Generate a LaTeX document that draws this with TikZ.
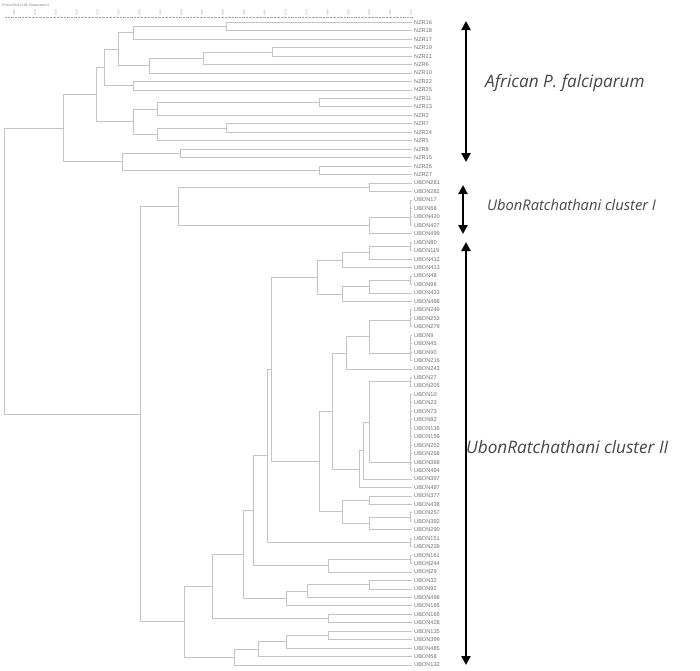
\documentclass[tikz,border=0pt]{standalone}
\usepackage{fontspec}
\setmainfont{Liberation Sans}
\newfontfamily\labfont{Open Sans}
\usetikzlibrary{calc,arrows.meta}
\definecolor{treegray}{RGB}{196,196,196}
\definecolor{leafgray}{RGB}{110,110,110}
\definecolor{biggray}{RGB}{70,70,70}
\newcommand\jn[4]{%
  \path let \p1=(#3), \p2=(#4) in (#2pt,{0.5*\y1+0.5*\y2}) coordinate (#1);
  \draw[br] (#1) |- (#3) (#1) |- (#4);}
\begin{document}
\begin{tikzpicture}[x=1pt,y=-1pt,
  br/.style={draw=treegray,line width=0.8pt},
  lbl/.style={anchor=west,inner sep=0pt,text=leafgray,font=\fontsize{5.6}{6}\selectfont},
  ticklbl/.style={inner sep=0pt,text=gray,rotate=90,font=\fontsize{2.6}{3}\selectfont},
  bigarrow/.style={line width=2.3pt,black,{Triangle[length=9pt,width=9pt]}-{Triangle[length=9pt,width=9pt]}},
  biglbl/.style={anchor=west,inner sep=0pt,text=biggray,font=\labfont\itshape\fontsize{17.2}{19}\selectfont}]
\useasboundingbox (0,0) rectangle (700,670);
% header and scale
\node[anchor=west,inner sep=0pt,text=gray,font=\fontsize{3.6}{4}\selectfont] (hdr) at (2,6) {PhenoTest (<All Characters>)};
\coordinate (axl) at (5,17.3);
\coordinate (axr) at (413,17.3);
\draw[gray!70,densely dotted,line width=0.4pt] (axl) -- (axr);
\foreach \v [count=\j from 0] in {0.05,0.10,0.15,0.20,0.25,0.30,0.35,0.40,0.45,0.50,0.55,0.60,0.65,0.70,0.75,0.80,0.85,0.90,0.95,1.00}{
  \node[ticklbl] (tk\j) at ({14+20.9*\j},12.8) {\v};
}
% leaves
\foreach \n [count=\i from 0] in {NZR16,NZR18,NZR17,NZR19,NZR21,NZR6,NZR10,NZR22,NZR25,NZR11,NZR13,NZR2,NZR7,NZR24,NZR5,NZR8,NZR15,NZR26,NZR27,UBON281,UBON282,UBON17,UBON68,UBON420,UBON427,UBON499,UBON80,UBON119,UBON412,UBON413,UBON48,UBON96,UBON433,UBON488,UBON249,UBON253,UBON279,UBON9,UBON45,UBON90,UBON216,UBON243,UBON27,UBON205,UBON10,UBON23,UBON73,UBON82,UBON136,UBON159,UBON252,UBON268,UBON388,UBON494,UBON397,UBON497,UBON377,UBON438,UBON257,UBON392,UBON290,UBON151,UBON239,UBON161,UBON244,UBON29,UBON32,UBON92,UBON498,UBON165,UBON165,UBON428,UBON135,UBON399,UBON485,UBON58,UBON132}{
  \coordinate (k\i) at (411.5,{22.3+8.457*\i});
  \node[lbl] (t\i) at (414,{22.3+8.457*\i}) {\n};
}
% African cluster
\jn{a1}{226}{k0}{k1}
\jn{a2}{133}{a1}{k2}
\jn{b1}{272}{k3}{k4}
\jn{b2}{203}{b1}{k5}
\jn{b3}{149}{b2}{k6}
\jn{ab}{118}{a2}{b3}
\jn{c1}{133}{k7}{k8}
\jn{cc}{104}{ab}{c1}
\jn{d1}{319}{k9}{k10}
\jn{d2}{157}{d1}{k11}
\jn{d3}{226}{k12}{k13}
\jn{d4}{157}{d3}{k14}
\jn{dd}{133}{d2}{d4}
\jn{ee}{96}{cc}{dd}
\jn{f1}{180}{k15}{k16}
\jn{f2}{319}{k17}{k18}
\jn{ff}{122}{f1}{f2}
\jn{nzr}{63}{ee}{ff}
% cluster I
\jn{g1}{369}{k19}{k20}
\jn{g2}{410}{k21}{k22}
\jn{g3}{410}{g2}{k23}
\jn{g4}{410}{g3}{k24}
\jn{g5}{369}{g4}{k25}
\jn{cla}{178}{g1}{g5}
% cluster II
\jn{h1}{410}{k26}{k27}
\jn{h2}{369}{h1}{k28}
\jn{h3}{342}{h2}{k29}
\jn{h4}{410}{k30}{k31}
\jn{h5}{369}{h4}{k32}
\jn{h6}{342}{h5}{k33}
\jn{h7}{317}{h3}{h6}
\jn{i1}{410}{k34}{k35}
\jn{i2}{410}{i1}{k36}
\jn{i3}{410}{k37}{k38}
\jn{i4}{410}{i3}{k39}
\jn{i5}{410}{i4}{k40}
\jn{i6}{369}{i2}{i5}
\jn{i7}{346}{i6}{k41}
\jn{j1}{410}{k42}{k43}
\jn{p45}{410}{k44}{k45}
\jn{p46}{410}{p45}{k46}
\jn{p47}{410}{p46}{k47}
\jn{p48}{410}{p47}{k48}
\jn{p49}{410}{p48}{k49}
\jn{p50}{410}{p49}{k50}
\jn{p51}{410}{p50}{k51}
\jn{p52}{410}{p51}{k52}
\jn{p53}{410}{p52}{k53}
\jn{j2}{369}{j1}{p53}
\jn{j3}{363}{j2}{k54}
\jn{j4}{359}{j3}{k55}
\jn{j5}{332}{i7}{j4}
\jn{m1}{369}{k56}{k57}
\jn{m2}{410}{k58}{k59}
\jn{m3}{369}{m2}{k60}
\jn{m4}{342}{m1}{m3}
\jn{m5}{319}{j5}{m4}
\jn{q1}{271}{h7}{m5}
\jn{q2}{410}{k61}{k62}
\jn{q3}{267}{q1}{q2}
\jn{r1}{410}{k63}{k64}
\jn{r2}{328}{r1}{k65}
\jn{q4}{253}{q3}{r2}
\jn{s1}{369}{k66}{k67}
\jn{s2}{307}{s1}{k68}
\jn{s3}{286}{s2}{k69}
\jn{q5}{243}{q4}{s3}
\jn{t1}{328}{k70}{k71}
\jn{q6}{212}{q5}{t1}
\jn{u1}{328}{k72}{k73}
\jn{u2}{286}{u1}{k74}
\jn{u3}{258}{u2}{k75}
\jn{u4}{234}{u3}{k76}
\jn{clb}{184}{q6}{u4}
\jn{ubon}{140}{cla}{clb}
\jn{root}{4.5}{nzr}{ubon}
% annotations
\coordinate (ar1a) at (466,21);
\coordinate (ar1b) at (466,162);
\coordinate (ar2a) at (463,185);
\coordinate (ar2b) at (463,234);
\coordinate (ar3a) at (466,242);
\coordinate (ar3b) at (466,665);
\draw[bigarrow] (ar1a) -- (ar1b);
\draw[bigarrow] (ar2a) -- (ar2b);
\draw[bigarrow] (ar3a) -- (ar3b);
\node[biglbl] (lab1) at (485,83) {African P. falciparum};
\node[biglbl,font=\labfont\itshape\fontsize{14.7}{16}\selectfont] (lab2) at (487,205) {UbonRatchathani cluster I};
\node[biglbl] (lab3) at (466,447) {UbonRatchathani cluster II};
\end{tikzpicture}
\end{document}
